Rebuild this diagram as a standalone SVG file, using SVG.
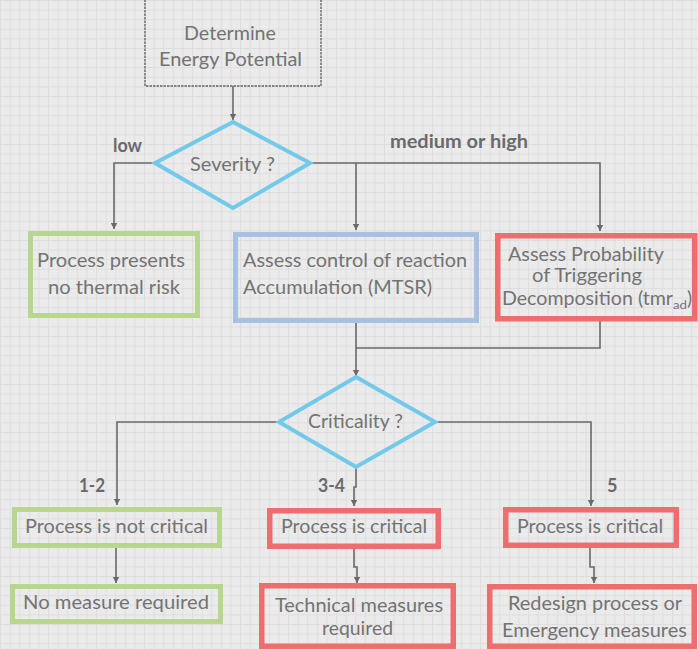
<svg xmlns="http://www.w3.org/2000/svg" width="698" height="649" viewBox="0 0 698 649">
  <defs>
    <pattern id="grid" width="9.6" height="9.6" patternUnits="userSpaceOnUse">
      <rect width="9.6" height="9.6" fill="#ebebeb"/>
      <path d="M0,0.5 H9.6 M0.5,0 V9.6" stroke="#dedede" stroke-width="1" fill="none"/>
    </pattern>
    <marker id="arrow" markerWidth="8" markerHeight="8" refX="6" refY="4" orient="auto" markerUnits="userSpaceOnUse">
      <path d="M0,0.8 L6,4 L0,7.2 Z" fill="#6a6a6a"/>
    </marker>
    <style>
      .lbl { font-family: Lato, "Open Sans", "Liberation Sans", sans-serif; font-size: 19px; fill: #737373; }
      .mid { text-anchor: middle; }
      .edge { font-family: Lato, "Open Sans", "Liberation Sans", sans-serif; font-size: 18px; fill: #6a6a6a; font-weight: bold; }
      .green { fill: none; stroke: #b7d68f; stroke-width: 5; }
      .blue { fill: none; stroke: #a8c1e0; stroke-width: 5; }
      .red { fill: none; stroke: #ee6d6e; stroke-width: 5.5; }
      .dia { fill: none; stroke: #72c9ea; stroke-width: 4; stroke-linejoin: miter; }
      .start { fill: none; stroke: #666666; stroke-width: 1.4; stroke-dasharray: 2.5 1; }
      .conn path { fill: none; stroke: #6a6a6a; stroke-width: 1.6; }
    </style>
  </defs>

  <rect width="698" height="649" fill="url(#grid)"/>

  <!-- connectors -->
  <g id="connectors" class="conn">
    <path d="M233,86 V120" marker-end="url(#arrow)"/>
    <path d="M155,163 H114 V229" marker-end="url(#arrow)"/>
    <path d="M310,163 H600 V231" marker-end="url(#arrow)"/>
    <path d="M356,163 V230" marker-end="url(#arrow)"/>
    <path d="M356,323 V376" marker-end="url(#arrow)"/>
    <path d="M600,320 V348 H356"/>
    <path d="M279,422 H117 V505" marker-end="url(#arrow)"/>
    <path d="M435,422 H591 V506" marker-end="url(#arrow)"/>
    <path d="M356,467 V487 H354 V506" marker-end="url(#arrow)"/>
    <path d="M116,548 V583" marker-end="url(#arrow)"/>
    <path d="M354,549 V567 H357 V583" marker-end="url(#arrow)"/>
    <path d="M590,548 V567 H594 V583" marker-end="url(#arrow)"/>
  </g>

  <!-- edge labels -->
  <g id="edge-labels">
    <text class="edge" x="113" y="152" textLength="29" lengthAdjust="spacingAndGlyphs">low</text>
    <text class="edge" x="390" y="148" textLength="138" lengthAdjust="spacingAndGlyphs">medium or high</text>
    <text class="edge" x="79" y="492" textLength="26" lengthAdjust="spacingAndGlyphs">1-2</text>
    <text class="edge" x="318" y="492" textLength="27" lengthAdjust="spacingAndGlyphs">3-4</text>
    <text class="edge" x="607" y="492">5</text>
  </g>

  <g id="node-energy">
    <rect class="start" x="145" y="-10" width="176" height="96"/>
    <text class="lbl mid" x="230" y="40" textLength="92" lengthAdjust="spacingAndGlyphs">Determine</text>
    <text class="lbl mid" x="230.5" y="66" textLength="143" lengthAdjust="spacingAndGlyphs">Energy Potential</text>
  </g>

  <g id="node-severity">
    <polygon class="dia" points="233,122 310,163 233,208 155,163"/>
    <text class="lbl mid" x="232.5" y="171" textLength="85" lengthAdjust="spacingAndGlyphs">Severity ?</text>
  </g>

  <g id="node-no-risk">
    <rect class="green" x="30.5" y="233.5" width="167" height="82"/>
    <text class="lbl mid" x="111" y="267" textLength="148" lengthAdjust="spacingAndGlyphs">Process presents</text>
    <text class="lbl mid" x="114" y="294" textLength="132" lengthAdjust="spacingAndGlyphs">no thermal risk</text>
  </g>

  <g id="node-mtsr">
    <rect class="blue" x="235.5" y="234.5" width="241" height="86"/>
    <text class="lbl" x="243" y="267" textLength="224" lengthAdjust="spacingAndGlyphs">Assess control of reaction</text>
    <text class="lbl" x="243" y="294" textLength="189" lengthAdjust="spacingAndGlyphs">Accumulation (MTSR)</text>
  </g>

  <g id="node-tmr">
    <rect class="red" x="497.75" y="235.75" width="197" height="83"/>
    <text class="lbl mid" x="586" y="261" textLength="156" lengthAdjust="spacingAndGlyphs">Assess Probability</text>
    <text class="lbl mid" x="587" y="282" textLength="110" lengthAdjust="spacingAndGlyphs">of Triggering</text>
    <text class="lbl" x="502" y="305"><tspan textLength="171" lengthAdjust="spacingAndGlyphs">Decomposition (tmr</tspan><tspan font-size="12" dy="4" textLength="14" lengthAdjust="spacingAndGlyphs">ad</tspan><tspan dy="-4">)</tspan></text>
  </g>

  <g id="node-criticality">
    <polygon class="dia" points="356,377 435,422 356,467 279,422"/>
    <text class="lbl mid" x="355.5" y="428" textLength="95" lengthAdjust="spacingAndGlyphs">Criticality ?</text>
  </g>

  <g id="node-not-critical">
    <rect class="green" x="14.5" y="509.5" width="205" height="36"/>
    <text class="lbl mid" x="116.5" y="533" textLength="183" lengthAdjust="spacingAndGlyphs">Process is not critical</text>
  </g>

  <g id="node-critical-a">
    <rect class="red" x="269.75" y="510.75" width="168.5" height="35.5"/>
    <text class="lbl mid" x="354" y="533" textLength="146" lengthAdjust="spacingAndGlyphs">Process is critical</text>
  </g>

  <g id="node-critical-b">
    <rect class="red" x="505.75" y="509.75" width="170.5" height="35.5"/>
    <text class="lbl mid" x="590" y="533" textLength="146" lengthAdjust="spacingAndGlyphs">Process is critical</text>
  </g>

  <g id="node-no-measure">
    <rect class="green" x="12.5" y="586.5" width="208" height="35"/>
    <text class="lbl mid" x="116" y="609" textLength="186" lengthAdjust="spacingAndGlyphs">No measure required</text>
  </g>

  <g id="node-technical">
    <rect class="red" x="261.75" y="585.75" width="191.5" height="60.5"/>
    <text class="lbl mid" x="359" y="612" textLength="168" lengthAdjust="spacingAndGlyphs">Technical measures</text>
    <text class="lbl mid" x="357.5" y="635" textLength="71" lengthAdjust="spacingAndGlyphs">required</text>
  </g>

  <g id="node-redesign">
    <rect class="red" x="489.75" y="586.75" width="204.5" height="59.5"/>
    <text class="lbl mid" x="595" y="610" textLength="174" lengthAdjust="spacingAndGlyphs">Redesign process or</text>
    <text class="lbl mid" x="594.5" y="637" textLength="185" lengthAdjust="spacingAndGlyphs">Emergency measures</text>
  </g>
</svg>
